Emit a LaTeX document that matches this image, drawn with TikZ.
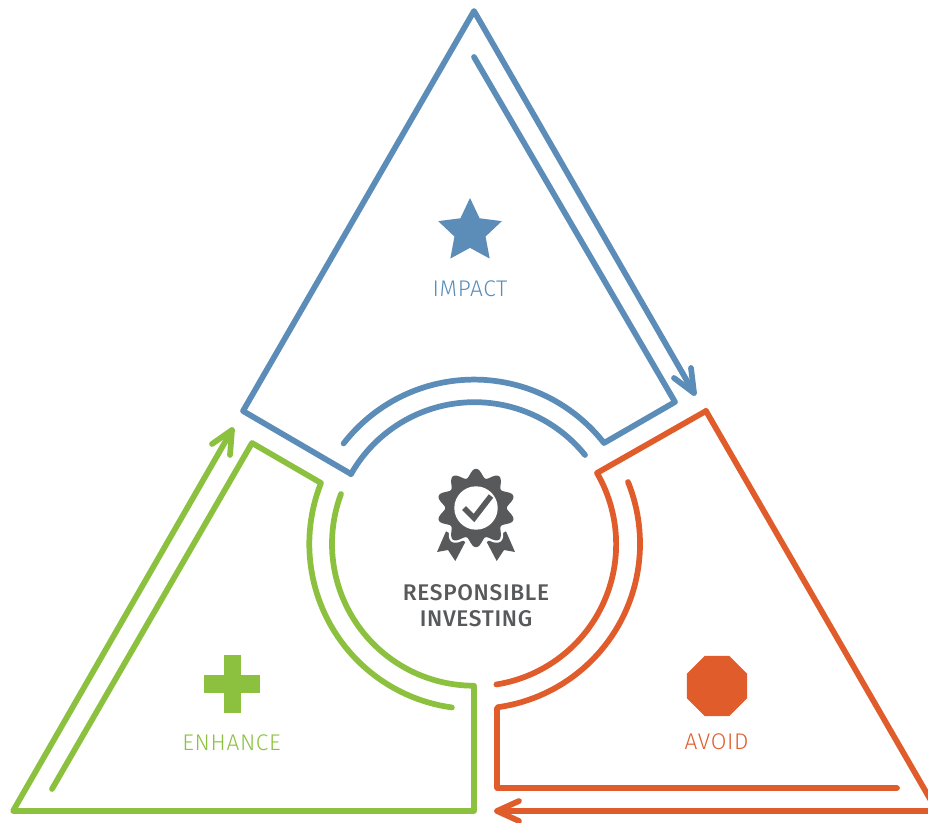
\documentclass[tikz,border=0pt]{standalone}
\usepackage{fontspec}
\setmainfont{Lato}
\newfontfamily\labelfont[LetterSpace=3]{Fira Sans Light}
\newfontfamily\titlefont[LetterSpace=3]{Fira Sans Medium}
\usetikzlibrary{shapes.geometric}
\definecolor{impactblue}{HTML}{5B8DB8}
\definecolor{avoidred}{HTML}{E05C2B}
\definecolor{enhancegreen}{HTML}{8CC13F}
\definecolor{badgegrey}{HTML}{58595B}
\tikzset{
  outline/.style={line width=4.3pt,line cap=round,line join=round},
  caption/.style={font=\labelfont\fontsize{17}{20}\selectfont,inner sep=0pt,anchor=center},
}
\begin{document}
\begin{tikzpicture}[x=.75pt,y=.75pt]
\useasboundingbox (0,0) rectangle (928,822);
\clip (0,0) rectangle (928,822);
% blue
\coordinate (bA) at (585,367);
\coordinate (bB) at (351,348);
\coordinate (bC) at (243,411);
\coordinate (bT) at (474,811);
\coordinate (bTip) at (694,429);
\coordinate (bF) at (474,765);
\coordinate (bR) at (675,420);
\coordinate (bS) at (604,379);
\draw[outline,impactblue] (bA) arc[start angle=38.9,end angle=150.5,radius=142] -- (bB) -- (bC) -- (bT) -- (bTip);
\draw[outline,impactblue] (bTip) ++(-20,15) -- (bTip) -- ++(-3,25);
\draw[outline,impactblue] (bF) -- (bR) -- (bS) arc[start angle=38,end angle=142.2,radius=165];
% red
\coordinate (rA) at (706,411);
\coordinate (rB) at (597,349);
\coordinate (rC) at (937,11);
\coordinate (rTip) at (497,11);
\coordinate (rF) at (628,340);
\coordinate (rG) at (497,113);
\coordinate (rH) at (497,34);
\coordinate (rI) at (897,34);
\draw[outline,avoidred] (rA) -- (rB) arc[start angle=30.1,end angle=-81,radius=142];
\draw[outline,avoidred] (rA) -- (rC) -- (rTip);
\draw[outline,avoidred] (rTip) ++(22,10) -- (rTip) -- ++(22,-10);
\draw[outline,avoidred] (rF) arc[start angle=22,end angle=-82.2,radius=165] -- (rG) -- (rH) -- (rI);
% green
\coordinate (gA) at (252,379);
\coordinate (gB) at (321,339);
\coordinate (gF) at (52,33);
\coordinate (gC) at (341,328);
\coordinate (gD) at (474,136);
\coordinate (gE) at (474,11);
\coordinate (gL) at (13,11);
\coordinate (gTip) at (232,392);
\draw[outline,enhancegreen] (gF) -- (gA) -- (gB) arc[start angle=158.3,end angle=262.2,radius=165];
\draw[outline,enhancegreen] (gC) arc[start angle=159.5,end angle=270,radius=142] -- (gD) -- (gE) -- (gL) -- (gTip);
\draw[outline,enhancegreen] (gTip) ++(-20,-14) -- (gTip) -- ++(-2,-25);
% icons
\node[star,star points=5,star point ratio=2.05,minimum size=67*.75pt,inner sep=0pt,fill=impactblue] (star) at (470,590.5) {};
\node[caption,text=impactblue] (impact) at (470,533) {IMPACT};
\fill[enhancegreen] (224,109.3) rectangle (240.7,167);
\fill[enhancegreen] (204.3,129.3) rectangle (260,147);
\node[caption,text=enhancegreen] (enhance) at (231.6,79.5) {ENHANCE};
\node[regular polygon,regular polygon sides=8,minimum size=65*.75pt,inner sep=0pt,fill=avoidred] (stop) at (717,136) {};
\node[caption,text=avoidred] (avoid) at (716.6,80) {AVOID};
% badge
\begin{scope}[shift={(476,314)}]
\fill[badgegrey] (-30,-23.3) -- (-39,-44) -- (-28,-42) -- (-20.7,-53) -- (-10.7,-34) -- cycle;
\fill[badgegrey] (30,-23.3) -- (39,-44) -- (28,-42) -- (20.7,-53) -- (10.7,-34) -- cycle;
\draw[white,line width=3.5pt,line join=round] plot[domain=0:360,samples=241] (\x:{35+4.2*cos(10*(\x-90))});
\fill[badgegrey] plot[domain=0:360,samples=241] (\x:{35+4.2*cos(10*(\x-90))});
\fill[white] (0,0) circle[radius=21.7];
\draw[badgegrey,line width=4.2pt,line join=miter] (-12,0) -- (-2,-10) -- (15,12);
\end{scope}
\node[font=\titlefont\fontsize{17}{19.5}\selectfont,text=badgegrey,align=center,inner sep=0pt] (title) at (476,216) {RESPONSIBLE\\INVESTING};
\end{tikzpicture}
\end{document}
